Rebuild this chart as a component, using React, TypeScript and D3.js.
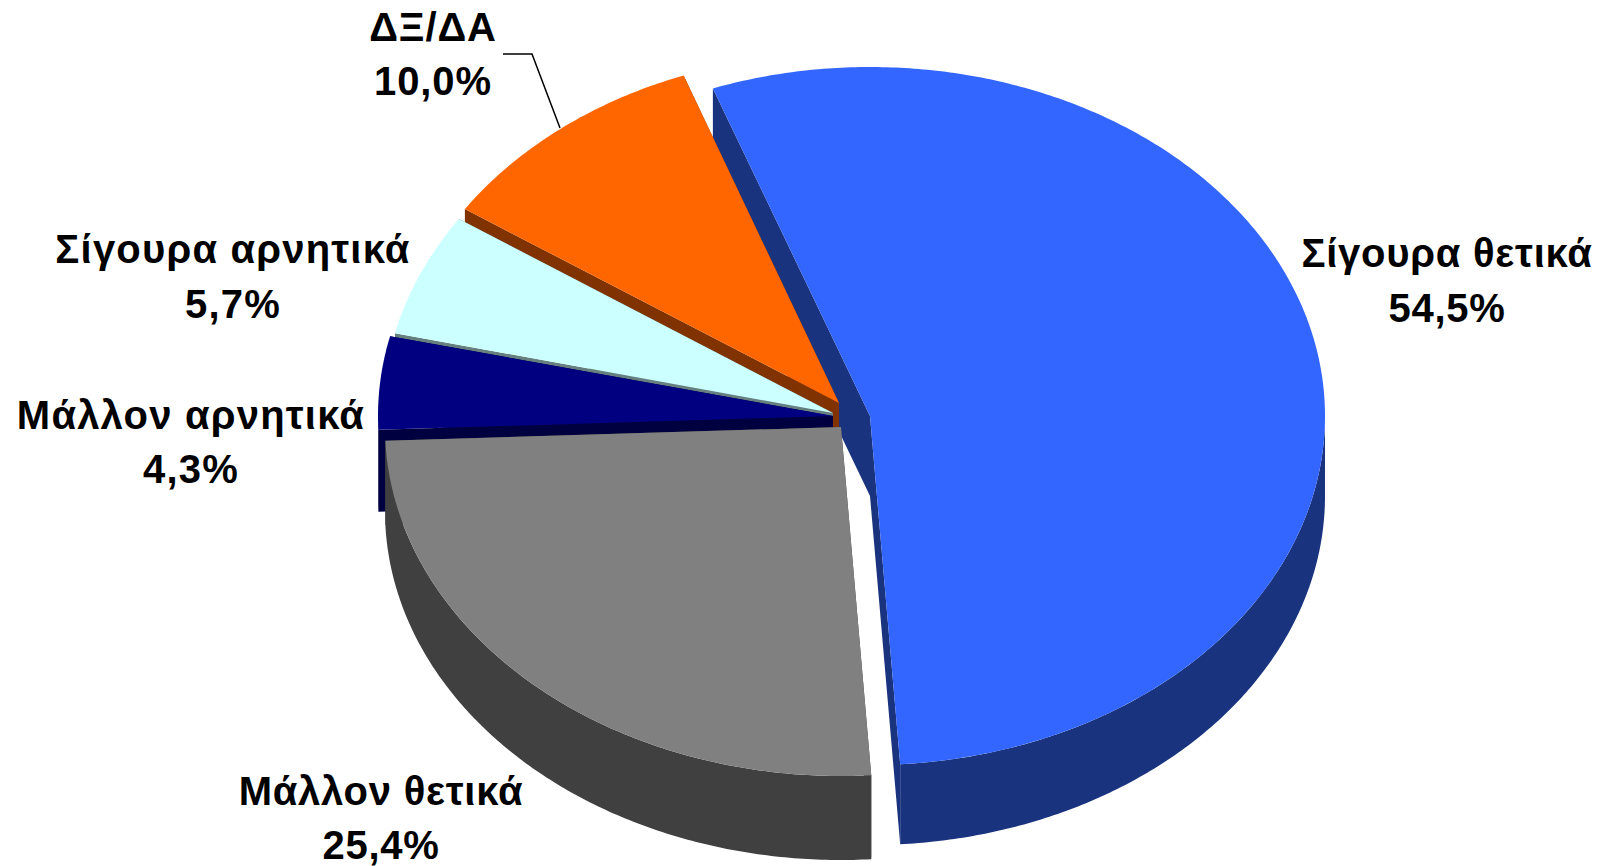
import React from "react";
import * as d3 from "d3";

const categories = ["Σίγουρα θετικά", "Μάλλον θετικά", "Μάλλον αρνητικά", "Σίγουρα αρνητικά", "ΔΞ/ΔΑ"];
const values = [54.5, 25.4, 4.3, 5.7, 10.0];
const valueLabels = ["54,5%", "25,4%", "4,3%", "5,7%", "10,0%"];
const topColors = ["#3366FF", "#808080", "#000080", "#CCFFFF", "#FF6600"];
const sideColors = ["#1A337F", "#404040", "#000040", "#668080", "#803300"];

// Layout, separate from the data
const W = 1608, H = 866;
const RY = 349;
const START = (-20.2 * Math.PI) / 180;
const centres: [number, number][] = [[870, 416], [841, 427], [833, 416], [833, 413], [839, 403]];
const radiiX = [455, 456, 455, 450, 450];
const depths = [80, 84, 82, 82, 82];
const labelPos: [number, number, number][] = [
  [1447, 267, 322],
  [381, 805, 859],
  [191, 429, 483],
  [233, 263, 318],
  [433, 41, 95],
];
const labelTracking = [0.75, 0.75, 1.2, 1.2, 0.9];
const paintOrder = [0, 4, 3, 2, 1];
const FONT = 40;
const leader: [number, number][] = [[503, 54], [532, 54], [560, 128]];

type P = [number, number];

export default function App() {
  const arcs = d3.pie<number>().sort(null).startAngle(START).endAngle(START + 2 * Math.PI)(values);
  const line = d3.line<P>();
  const sample = (a: number, b: number) => {
    const n = Math.max(2, Math.ceil(Math.abs(b - a) / 0.01));
    return d3.range(n + 1).map((i) => a + ((b - a) * i) / n);
  };

  return (
    <svg
      width={W}
      height={H}
      viewBox={`0 0 ${W} ${H}`}
      style={{ position: "absolute", left: 0, top: 0, background: "#fff" }}
    >
      {paintOrder.map((i) => {
        const a = arcs[i];
        const c = centres[i];
        const rx = radiiX[i];
        const depth = depths[i];
        const pt = (t: number, dy = 0): P => [c[0] + rx * Math.sin(t), c[1] - RY * Math.cos(t) + dy];
        const s = a.startAngle, e = a.endAngle;
        const topPts: P[] = [c, ...sample(s, e).map((t) => pt(t))];
        const side1: P[] = [c, pt(s), pt(s, depth), [c[0], c[1] + depth]];
        const side2: P[] = [c, pt(e), pt(e, depth), [c[0], c[1] + depth]];
        const fs = Math.max(s, Math.PI / 2), fe = Math.min(e, (3 * Math.PI) / 2);
        const front: P[] | null =
          fe > fs
            ? [...sample(fs, fe).map((t) => pt(t)), ...sample(fe, fs).map((t) => pt(t, depth))]
            : null;
        return (
          <g key={categories[i]}>
            <path d={line(side1) + "Z"} fill={sideColors[i]} />
            <path d={line(side2) + "Z"} fill={sideColors[i]} />
            {front && <path d={line(front) + "Z"} fill={sideColors[i]} />}
            <path d={line(topPts) + "Z"} fill={topColors[i]} />
          </g>
        );
      })}
      <path d={line(leader) ?? ""} fill="none" stroke="#000" strokeWidth={1.5} />
      <g
        fontFamily="'Liberation Sans', Arial, sans-serif"
        fontWeight="bold"
        fontSize={FONT}
        fill="#000"
        textAnchor="middle"
      >
        {categories.map((name, i) => (
          <g key={name} letterSpacing={labelTracking[i]}>
            <text x={labelPos[i][0]} y={labelPos[i][1]}>{name}</text>
            <text x={labelPos[i][0]} y={labelPos[i][2]}>{valueLabels[i]}</text>
          </g>
        ))}
      </g>
    </svg>
  );
}
